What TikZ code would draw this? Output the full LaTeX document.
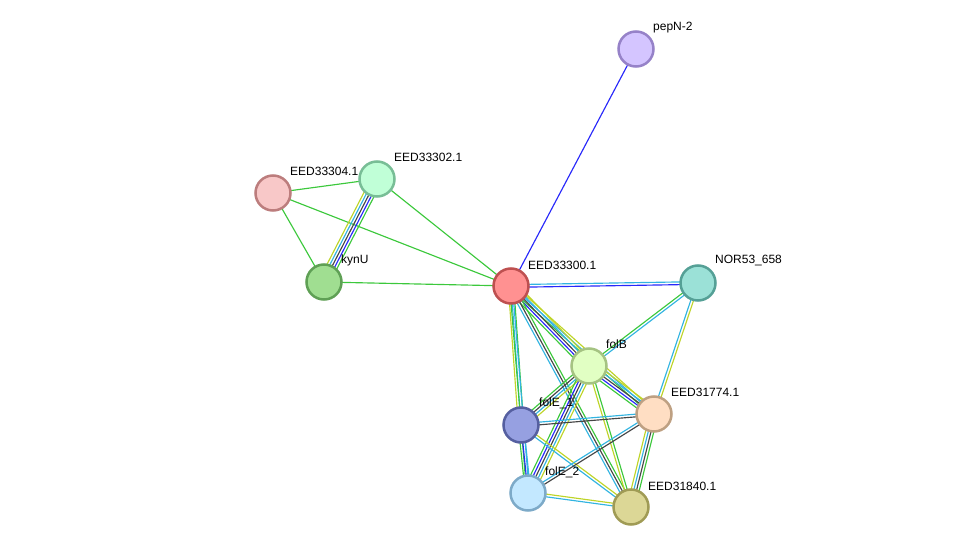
\documentclass[tikz,border=0pt]{standalone}
\usepackage{fontspec}
\setmainfont{Liberation Sans}
\usepackage{tikz}
\usetikzlibrary{calc, backgrounds}
\definecolor{strgreen}{RGB}{60, 200, 60}
\definecolor{strblue}{RGB}{40, 40, 250}
\definecolor{strblack}{RGB}{70, 70, 70}
\definecolor{strcyan}{RGB}{50, 180, 225}
\definecolor{stryellow}{RGB}{190, 212, 40}

% parallel coloured lines between two proteins
\newcommand{\strlink}[3]{%
  \gdef\nlines{0}%
  \foreach \c in {#3}{\xdef\nlines{\the\numexpr\nlines+1\relax}}%
  \foreach \c [count=\i] in {#3}{%
    \pgfmathsetmacro{\off}{(\i-(\nlines+1)/2)*2.7}%
    \draw[\c, line width=1.15pt] ($(#1)!\off pt!90:(#2)$) -- ($(#2)!\off pt!-90:(#1)$);
  }}

\tikzset{
  prot/.style={circle, line width=2.5pt, minimum size=35pt, inner sep=0pt},
  lbl/.style={anchor=west, font=\fontsize{12}{14}\selectfont, inner sep=1pt}
}

\begin{document}
\begin{tikzpicture}[x=1pt, y=-1pt]
  \useasboundingbox (0,0) rectangle (975,553);

  % Proteins
  \node[prot, draw={rgb,255:red,150;green,130;blue,200}, fill={rgb,255:red,212;green,197;blue,255}] (pepN) at (636,49) {};
  \node[prot, draw={rgb,255:red,188;green,125;blue,125}, fill={rgb,255:red,248;green,200;blue,200}] (e33304) at (273,193) {};
  \node[prot, draw={rgb,255:red,120;green,190;blue,150}, fill={rgb,255:red,192;green,255;blue,215}] (e33302) at (377,179) {};
  \node[prot, draw={rgb,255:red,95;green,160;blue,85}, fill={rgb,255:red,160;green,222;blue,145}] (kynU) at (324,282) {};
  \node[prot, draw={rgb,255:red,190;green,80;blue,80}, fill={rgb,255:red,255;green,145;blue,145}] (e33300) at (511,286) {};
  \node[prot, draw={rgb,255:red,85;green,160;blue,150}, fill={rgb,255:red,155;green,225;blue,215}] (nor) at (698,283) {};
  \node[prot, draw={rgb,255:red,165;green,195;blue,130}, fill={rgb,255:red,225;green,255;blue,195}] (folB) at (589,366) {};
  \node[prot, draw={rgb,255:red,85;green,95;blue,160}, fill={rgb,255:red,150;green,160;blue,225}] (folEa) at (521,425) {};
  \node[prot, draw={rgb,255:red,190;green,160;blue,130}, fill={rgb,255:red,255;green,222;blue,195}] (e31774) at (654,414) {};
  \node[prot, draw={rgb,255:red,125;green,170;blue,200}, fill={rgb,255:red,195;green,232;blue,255}] (folEb) at (528,493) {};
  \node[prot, draw={rgb,255:red,160;green,155;blue,85}, fill={rgb,255:red,220;green,215;blue,150}] (e31840) at (631,507) {};

  % Labels
  \node[lbl] (lpepN) at ($(pepN)+(16,-21)$) {pepN-2};
  \node[lbl] (l33304) at ($(e33304)+(16,-22)$) {EED33304.1};
  \node[lbl] (l33302) at ($(e33302)+(16,-22)$) {EED33302.1};
  \node[lbl] (lkynU) at ($(kynU)+(16,-22)$) {kynU};
  \node[lbl] (l33300) at ($(e33300)+(16,-21)$) {EED33300.1};
  \node[lbl] (lnor) at ($(nor)+(16,-22)$) {NOR53\_658};
  \node[lbl] (lfolB) at ($(folB)+(16,-22)$) {folB};
  \node[lbl] (lfolEa) at ($(folEa)+(17,-22)$) {folE\_1};
  \node[lbl] (l31774) at ($(e31774)+(16,-22)$) {EED31774.1};
  \node[lbl] (lfolEb) at ($(folEb)+(16,-21)$) {folE\_2};
  \node[lbl] (l31840) at ($(e31840)+(16,-21)$) {EED31840.1};

  % Evidence lines
  \begin{scope}[on background layer]
    \strlink{pepN}{e33300}{strblue}
    \strlink{e33304}{e33302}{strgreen}
    \strlink{e33304}{kynU}{strgreen}
    \strlink{e33304}{e33300}{strgreen}
    \strlink{e33302}{kynU}{stryellow,strcyan,strblack,strblue,strgreen}
    \strlink{e33302}{e33300}{strgreen}
    \strlink{kynU}{e33300}{strgreen}
    \strlink{e33300}{nor}{strblue,strcyan}
    \strlink{e33300}{e31774}{strgreen,strcyan,stryellow}
    \strlink{e33300}{folB}{strgreen,strblue,strblack,strcyan,stryellow}
    \strlink{e33300}{folEa}{stryellow,strcyan,strgreen}
    \strlink{e33300}{folEb}{strgreen,strcyan}
    \strlink{e33300}{e31840}{strcyan,strblack,strgreen}
    \strlink{nor}{folB}{strgreen,strcyan}
    \strlink{nor}{e31774}{strcyan,stryellow}
    \strlink{folB}{e31774}{strgreen,strblue,strblack,strcyan,stryellow}
    \strlink{folB}{folEa}{strgreen,strblack,strcyan,stryellow}
    \strlink{folB}{folEb}{strgreen,strblue,strblack,strcyan,stryellow}
    \strlink{folB}{e31840}{stryellow,strgreen}
    \strlink{folEa}{e31774}{strblack,strcyan}
    \strlink{folEa}{folEb}{strgreen,strblue,strcyan}
    \strlink{folEa}{e31840}{strcyan,stryellow}
    \strlink{folEb}{e31774}{strblack,strcyan}
    \strlink{folEb}{e31840}{strcyan,stryellow}
    \strlink{e31774}{e31840}{stryellow,strcyan,strblack,strgreen}
  \end{scope}
\end{tikzpicture}
\end{document}
